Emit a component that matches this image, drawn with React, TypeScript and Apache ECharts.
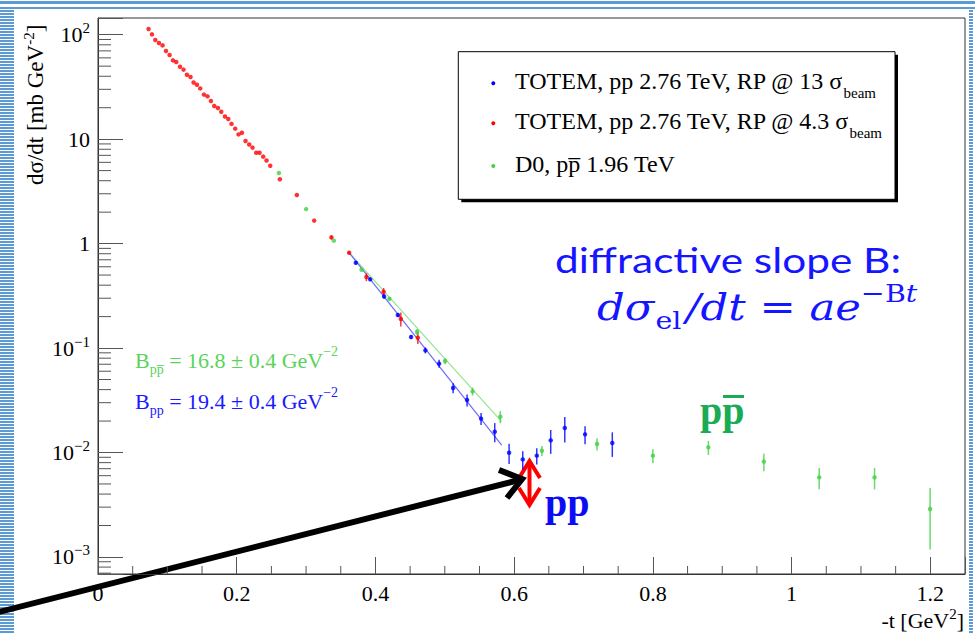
import React, { useEffect, useRef } from 'react';
import * as echarts from 'echarts';

// ---------- data ----------
const redT = [0.0729, 0.0778, 0.0826, 0.0879, 0.0931, 0.098, 0.1032, 0.108, 0.1128, 0.1182, 0.1233, 0.1282, 0.1334, 0.1378, 0.1426, 0.1474, 0.1527, 0.1579, 0.1628, 0.1676, 0.1729, 0.1777, 0.183, 0.1878, 0.1925, 0.1978, 0.2026, 0.2075, 0.2127, 0.218, 0.2228, 0.2281, 0.2329, 0.2382, 0.243, 0.2483, 0.2622, 0.2867, 0.3117, 0.3366, 0.3621, 0.387, 0.4118, 0.4366, 0.4611];
const redV = [113.4, 100.7, 89, 83.2, 79, 69.8, 64, 56.8, 54.8, 49.4, 46.3, 41.4, 39.4, 34.9, 33.2, 30.6, 26.7, 25.7, 23.2, 20.8, 19.9, 18.3, 16.5, 15.6, 14.0, 12.6, 11.1, 11.5, 9.6, 8.9, 8.3, 7.4, 7.4, 6.8, 6.25, 5.57, 4.13, 2.92, 1.66, 1.147, 0.818, 0.479, 0.346, 0.19, 0.1257];
const redE = [0, 0, 0, 0, 0, 0, 0, 0, 0, 0, 0, 0, 0, 0, 0, 0, 0, 0, 0, 0, 0, 0, 0, 0, 0, 0, 0, 0, 0, 0, 0, 0, 0, 0, 0, 0, 0, 0, 0, 0.05, 0.02, 0.042, 0.03, 0.029, 0.0166];

const blueT = [0.3717, 0.3924, 0.4125, 0.4323, 0.4514, 0.472, 0.4918, 0.512, 0.5321, 0.5523, 0.572, 0.5927, 0.6124, 0.6326, 0.6527, 0.673, 0.7022, 0.7415];
const blueV = [0.656, 0.455, 0.312, 0.2075, 0.1277, 0.0951, 0.0709, 0.0415, 0.0318, 0.0211, 0.01583, 0.00996, 0.00859, 0.00933, 0.01307, 0.01717, 0.01493, 0.01234];
const blueE = [0.02, 0.015, 0.014, 0.009, 0.0056, 0.0063, 0.0062, 0.0046, 0.0042, 0.0028, 0.0033, 0.0022, 0.0017, 0.00164, 0.00336, 0.00472, 0.00296, 0.00326];

const greenT = [0.2608, 0.3001, 0.34, 0.38, 0.4202, 0.46, 0.5004, 0.54, 0.58, 0.64, 0.7195, 0.8, 0.88, 0.96, 1.0398, 1.1196, 1.1997];
const greenV = [4.74, 2.14, 1.067, 0.562, 0.297, 0.1425, 0.0751, 0.0385, 0.022, 0.0104, 0.01208, 0.00933, 0.0112, 0.00818, 0.00578, 0.00578, 0.00288];
const greenE = [0, 0, 0, 0.01, 0.01, 0.0094, 0.005, 0.0034, 0.0029, 0.00114, 0.0016, 0.00144, 0.00172, 0.00157, 0.00134, 0.00134, 0.0017];

// exponential fits (straight on the log scale) – end points
const blueFitT = [0.362, 0.582];
const blueFitV = [0.82, 0.0118];
const greenFitT = [0.362, 0.582];
const greenFitV = [0.82, 0.0198];

const xTickLabels = ['0', '0.2', '0.4', '0.6', '0.8', '1', '1.2'];

const X_MIN = 0;
const X_MAX = 1.25;
const Y_MIN = 6.87e-4;
const Y_MAX = 144.5;

const SERIF = "'Liberation Serif', 'Times New Roman', serif";
const MATH = "'DejaVu Serif', serif";
const BLUE = '#0000ff';
const RED = '#ff0000';
const GREEN = '#45cf45';
const ANNOT_BLUE = '#1515ff';

function pairs(t: number[], v: number[]) {
  return t.map((x, i) => [x, v[i]]);
}

function errSeries(t: number[], v: number[], e: number[], color: string) {
  const data = t
    .map((x, i) => (e[i] > 0 ? [x, v[i] - e[i], v[i] + e[i]] : null))
    .filter((d) => d !== null);
  return {
    type: 'custom',
    data,
    encode: { x: 0, y: [1, 2] },
    silent: true,
    z: 3,
    renderItem: (params: any, api: any) => {
      const a = api.coord([api.value(0), api.value(1)]);
      const b = api.coord([api.value(0), api.value(2)]);
      return {
        type: 'line',
        shape: { x1: a[0], y1: a[1], x2: b[0], y2: b[1] },
        style: { stroke: color, lineWidth: 1.5, opacity: 0.8 },
      };
    },
  };
}

export default function App() {
  const ref = useRef<HTMLDivElement>(null);
  useEffect(() => {
    if (!ref.current) return;
    const chart = echarts.init(ref.current, undefined, { renderer: 'svg' });

    // minor tick positions (axis decoration)
    const yMinor: number[][] = [];
    for (let d = -4; d <= 2; d++) {
      for (let k = 2; k <= 9; k++) {
        const v = k * Math.pow(10, d);
        if (v > Y_MIN && v < Y_MAX) yMinor.push([X_MIN, v]);
      }
    }
    const xMinor: number[][] = [];
    for (let i = 1; i < 25; i++) {
      if (i % 4 !== 0) xMinor.push([i * 0.05, Y_MIN]);
    }

    const option: any = {
      animation: false,
      backgroundColor: '#ffffff',
      grid: {
        left: 98,
        right: 10,
        top: 18,
        bottom: 60,
        show: true,
        borderColor: '#333',
        borderWidth: 1,
        backgroundColor: 'transparent',
      },
      xAxis: {
        type: 'value',
        min: X_MIN,
        max: X_MAX,
        interval: 0.2,
        axisLine: { show: true, onZero: false, lineStyle: { color: '#333', width: 1 } },
        axisTick: { show: true, inside: true, length: 17, lineStyle: { color: '#555', width: 1 } },
        splitLine: { show: false },
        axisLabel: {
          margin: 8,
          fontFamily: SERIF,
          fontSize: 22,
          color: '#000',
          formatter: (v: number) => {
            const i = Math.round(v / 0.2);
            return Math.abs(v - i * 0.2) < 1e-9 && i < xTickLabels.length ? xTickLabels[i] : '';
          },
        },
      },
      yAxis: {
        type: 'log',
        logBase: 10,
        min: Y_MIN,
        max: Y_MAX,
        axisLine: { show: true, lineStyle: { color: '#333', width: 1 } },
        axisTick: { show: true, inside: true, length: 25, lineStyle: { color: '#555', width: 1 } },
        splitLine: { show: false },
        axisLabel: {
          margin: 8,
          color: '#000',
          formatter: (v: number) => {
            const L = Math.log10(v);
            const r = Math.round(L);
            if (Math.abs(L - r) > 1e-6) return '';
            if (r === 0) return '{b|1}';
            if (r === 1) return '{b|10}';
            return '{b|10}{s|' + (r < 0 ? '\u2212' + -r : String(r)) + '}';
          },
          rich: {
            b: { fontFamily: SERIF, fontSize: 22, lineHeight: 28, color: '#000' },
            s: { fontFamily: SERIF, fontSize: 15, lineHeight: 15, verticalAlign: 'top', color: '#000' },
          },
        },
      },
      series: [
        {
          type: 'line',
          data: pairs(greenFitT, greenFitV),
          symbol: 'none',
          lineStyle: { color: '#92e592', width: 1.2 },
          silent: true,
          z: 2,
        },
        {
          type: 'line',
          data: pairs(blueFitT, blueFitV),
          symbol: 'none',
          lineStyle: { color: '#6b6bff', width: 1.2 },
          silent: true,
          z: 2,
        },
        errSeries(redT, redV, redE, RED),
        errSeries(blueT, blueV, blueE, BLUE),
        errSeries(greenT, greenV, greenE, GREEN),
        {
          type: 'custom',
          data: yMinor,
          silent: true,
          z: 4,
          renderItem: (params: any, api: any) => {
            const p = api.coord([api.value(0), api.value(1)]);
            return {
              type: 'line',
              shape: { x1: p[0], y1: p[1], x2: p[0] + 13, y2: p[1] },
              style: { stroke: '#555', lineWidth: 1 },
            };
          },
        },
        {
          type: 'custom',
          data: xMinor,
          silent: true,
          z: 4,
          renderItem: (params: any, api: any) => {
            const p = api.coord([api.value(0), api.value(1)]);
            return {
              type: 'line',
              shape: { x1: p[0], y1: p[1], x2: p[0], y2: p[1] - 8 },
              style: { stroke: '#555', lineWidth: 1 },
            };
          },
        },
        {
          name: 'TOTEM, pp 2.76 TeV, RP @ 4.3 σbeam',
          type: 'scatter',
          data: pairs(redT, redV),
          symbol: 'circle',
          symbolSize: 4.5,
          itemStyle: { color: RED },
          z: 5,
        },
        {
          name: 'D0, pp̄ 1.96 TeV',
          type: 'scatter',
          data: pairs(greenT, greenV),
          symbol: 'circle',
          symbolSize: 4.5,
          itemStyle: { color: GREEN },
          z: 5,
        },
        {
          name: 'TOTEM, pp 2.76 TeV, RP @ 13 σbeam',
          type: 'scatter',
          data: pairs(blueT, blueV),
          symbol: 'circle',
          symbolSize: 4.5,
          itemStyle: { color: BLUE },
          z: 5,
        },
      ],
      graphic: [
        // slide border decorations
        { type: 'rect', shape: { x: 0, y: 1, width: 975, height: 3 }, style: { fill: '#5b9bd5' }, silent: true },
        { type: 'rect', shape: { x: 0, y: 7, width: 975, height: 2 }, style: { fill: '#5b9bd5' }, silent: true },
        { type: 'line', shape: { x1: 7, y1: 10, x2: 7, y2: 634 }, style: { stroke: '#5b9bd5', lineWidth: 14, lineDash: [2, 1] }, silent: true },
        { type: 'line', shape: { x1: 971, y1: 10, x2: 971, y2: 634 }, style: { stroke: '#5b9bd5', lineWidth: 4, lineDash: [2, 1] }, silent: true },
        // legend box
        { type: 'rect', shape: { x: 461.3, y: 54.7, width: 436.7, height: 147.6 }, style: { fill: '#000' }, silent: true },
        { type: 'rect', shape: { x: 458.3, y: 51.7, width: 436.7, height: 147.6 }, style: { fill: '#fff', stroke: '#000', lineWidth: 1 }, silent: true },
        { type: 'circle', shape: { cx: 493.3, cy: 83.3, r: 2 }, style: { fill: BLUE }, silent: true },
        { type: 'circle', shape: { cx: 493.3, cy: 123.3, r: 2 }, style: { fill: RED }, silent: true },
        { type: 'circle', shape: { cx: 493.3, cy: 166, r: 2 }, style: { fill: GREEN }, silent: true },
        {
          type: 'text', x: 515, y: 81.3,
          style: {
            text: '{n|TOTEM, pp 2.76 TeV, RP @ 13 σ}{s|beam}',
            verticalAlign: 'middle', textVerticalAlign: 'middle',
            rich: {
              n: { fontFamily: SERIF, fontSize: 24, lineHeight: 38, fill: '#000' },
              s: { fontFamily: SERIF, fontSize: 15, lineHeight: 15, verticalAlign: 'bottom', fill: '#000' },
            },
          },
          silent: true,
        },
        {
          type: 'text', x: 515, y: 121.3,
          style: {
            text: '{n|TOTEM, pp 2.76 TeV, RP @ 4.3 σ}{s|beam}',
            verticalAlign: 'middle', textVerticalAlign: 'middle',
            rich: {
              n: { fontFamily: SERIF, fontSize: 24, lineHeight: 38, fill: '#000' },
              s: { fontFamily: SERIF, fontSize: 15, lineHeight: 15, verticalAlign: 'bottom', fill: '#000' },
            },
          },
          silent: true,
        },
        {
          type: 'text', x: 515, y: 164,
          style: {
            text: 'D0, pp\u0305 1.96 TeV',
            font: '24px ' + SERIF,
            fill: '#000',
            verticalAlign: 'middle', textVerticalAlign: 'middle',
          },
          silent: true,
        },
        // axis titles
        {
          type: 'text', x: 35, y: 185, rotation: Math.PI / 2,
          style: {
            text: '{n|dσ/dt [mb GeV}{s|-2}{n|]}',
            align: 'left', textAlign: 'left',
            verticalAlign: 'middle', textVerticalAlign: 'middle',
            rich: {
              n: { fontFamily: SERIF, fontSize: 23, lineHeight: 28, fill: '#000' },
              s: { fontFamily: SERIF, fontSize: 15, lineHeight: 15, verticalAlign: 'top', fill: '#000' },
            },
          },
          silent: true,
        },
        {
          type: 'text', x: 964, y: 620,
          style: {
            text: '{n|-t [GeV}{s|2}{n|]}',
            align: 'right', textAlign: 'right',
            verticalAlign: 'middle', textVerticalAlign: 'middle',
            rich: {
              n: { fontFamily: SERIF, fontSize: 22, lineHeight: 28, fill: '#000' },
              s: { fontFamily: SERIF, fontSize: 15, lineHeight: 15, verticalAlign: 'top', fill: '#000' },
            },
          },
          silent: true,
        },
        // slope annotations
        {
          type: 'text', x: 135, y: 360,
          style: {
            text: '{n|B}{b|pp\u0305}{n| = 16.8 ± 0.4 GeV}{p|\u22122}',
            verticalAlign: 'middle', textVerticalAlign: 'middle',
            rich: {
              n: { fontFamily: SERIF, fontSize: 22, lineHeight: 32, fill: '#5ad35a' },
              b: { fontFamily: SERIF, fontSize: 14, lineHeight: 14, verticalAlign: 'bottom', fill: '#5ad35a' },
              p: { fontFamily: SERIF, fontSize: 14, lineHeight: 14, verticalAlign: 'top', fill: '#5ad35a' },
            },
          },
          silent: true,
        },
        {
          type: 'text', x: 135, y: 401.5,
          style: {
            text: '{n|B}{b|pp}{n| = 19.4 ± 0.4 GeV}{p|\u22122}',
            verticalAlign: 'middle', textVerticalAlign: 'middle',
            rich: {
              n: { fontFamily: SERIF, fontSize: 22, lineHeight: 32, fill: '#1a1aff' },
              b: { fontFamily: SERIF, fontSize: 14, lineHeight: 14, verticalAlign: 'bottom', fill: '#1a1aff' },
              p: { fontFamily: SERIF, fontSize: 14, lineHeight: 14, verticalAlign: 'top', fill: '#1a1aff' },
            },
          },
          silent: true,
        },
        {
          type: 'text', x: 555, y: 259, scaleX: 1.21,
          style: {
            text: 'diffractive slope B:',
            font: '35px Lato, Carlito, sans-serif',
            fill: ANNOT_BLUE,
            verticalAlign: 'middle', textVerticalAlign: 'middle',
          },
          silent: true,
        },
        {
          type: 'text', x: 597, y: 307, scaleX: 1.14,
          style: {
            text: '{i|dσ}{s|el}{i|/dt}{r| = }{i|ae}{p|\u2212B}{q|t}',
            verticalAlign: 'middle', textVerticalAlign: 'middle',
            rich: {
              i: { fontFamily: MATH, fontStyle: 'italic', fontSize: 38, lineHeight: 52, fill: ANNOT_BLUE },
              r: { fontFamily: MATH, fontSize: 38, lineHeight: 52, fill: ANNOT_BLUE },
              s: { fontFamily: MATH, fontSize: 25, lineHeight: 25, verticalAlign: 'bottom', padding: [0, 4, 0, 1], fill: ANNOT_BLUE },
              p: { fontFamily: MATH, fontSize: 25, lineHeight: 25, verticalAlign: 'top', fill: ANNOT_BLUE },
              q: { fontFamily: MATH, fontStyle: 'italic', fontSize: 25, lineHeight: 25, verticalAlign: 'top', fill: ANNOT_BLUE },
            },
          },
          silent: true,
        },
        // big labels
        {
          type: 'text', x: 700, y: 410,
          style: { text: 'pp', font: 'bold 40px ' + SERIF, fill: '#1aab55', verticalAlign: 'middle', textVerticalAlign: 'middle' },
          silent: true,
        },
        { type: 'rect', shape: { x: 723, y: 395, width: 21, height: 3 }, style: { fill: '#1aab55' }, silent: true },
        {
          type: 'text', x: 545, y: 502,
          style: { text: 'pp', font: 'bold 40px ' + SERIF, fill: '#0b0bf5', verticalAlign: 'middle', textVerticalAlign: 'middle' },
          silent: true,
        },
        // red double arrow
        { type: 'line', shape: { x1: 529.5, y1: 462, x2: 529.5, y2: 504 }, style: { stroke: '#ff0000', lineWidth: 4 }, silent: true },
        { type: 'polyline', shape: { points: [[519, 478], [529.5, 461], [540, 478]] }, style: { stroke: '#ff0000', lineWidth: 4, fill: null }, silent: true },
        { type: 'polyline', shape: { points: [[519, 488], [529.5, 505], [540, 488]] }, style: { stroke: '#ff0000', lineWidth: 4, fill: null }, silent: true },
        // black arrow
        { type: 'line', shape: { x1: -5, y1: 613, x2: 519, y2: 480 }, style: { stroke: '#000', lineWidth: 6 }, silent: true },
        { type: 'polyline', shape: { points: [[499, 470], [522, 479], [507, 498]] }, style: { stroke: '#000', lineWidth: 6, fill: null, lineJoin: 'miter' }, silent: true },
      ],
    };
    chart.setOption(option);
    return () => chart.dispose();
  }, []);
  return <div ref={ref} style={{ position: 'fixed', left: 0, top: 0, width: 975, height: 634, background: '#fff' }} />;
}
